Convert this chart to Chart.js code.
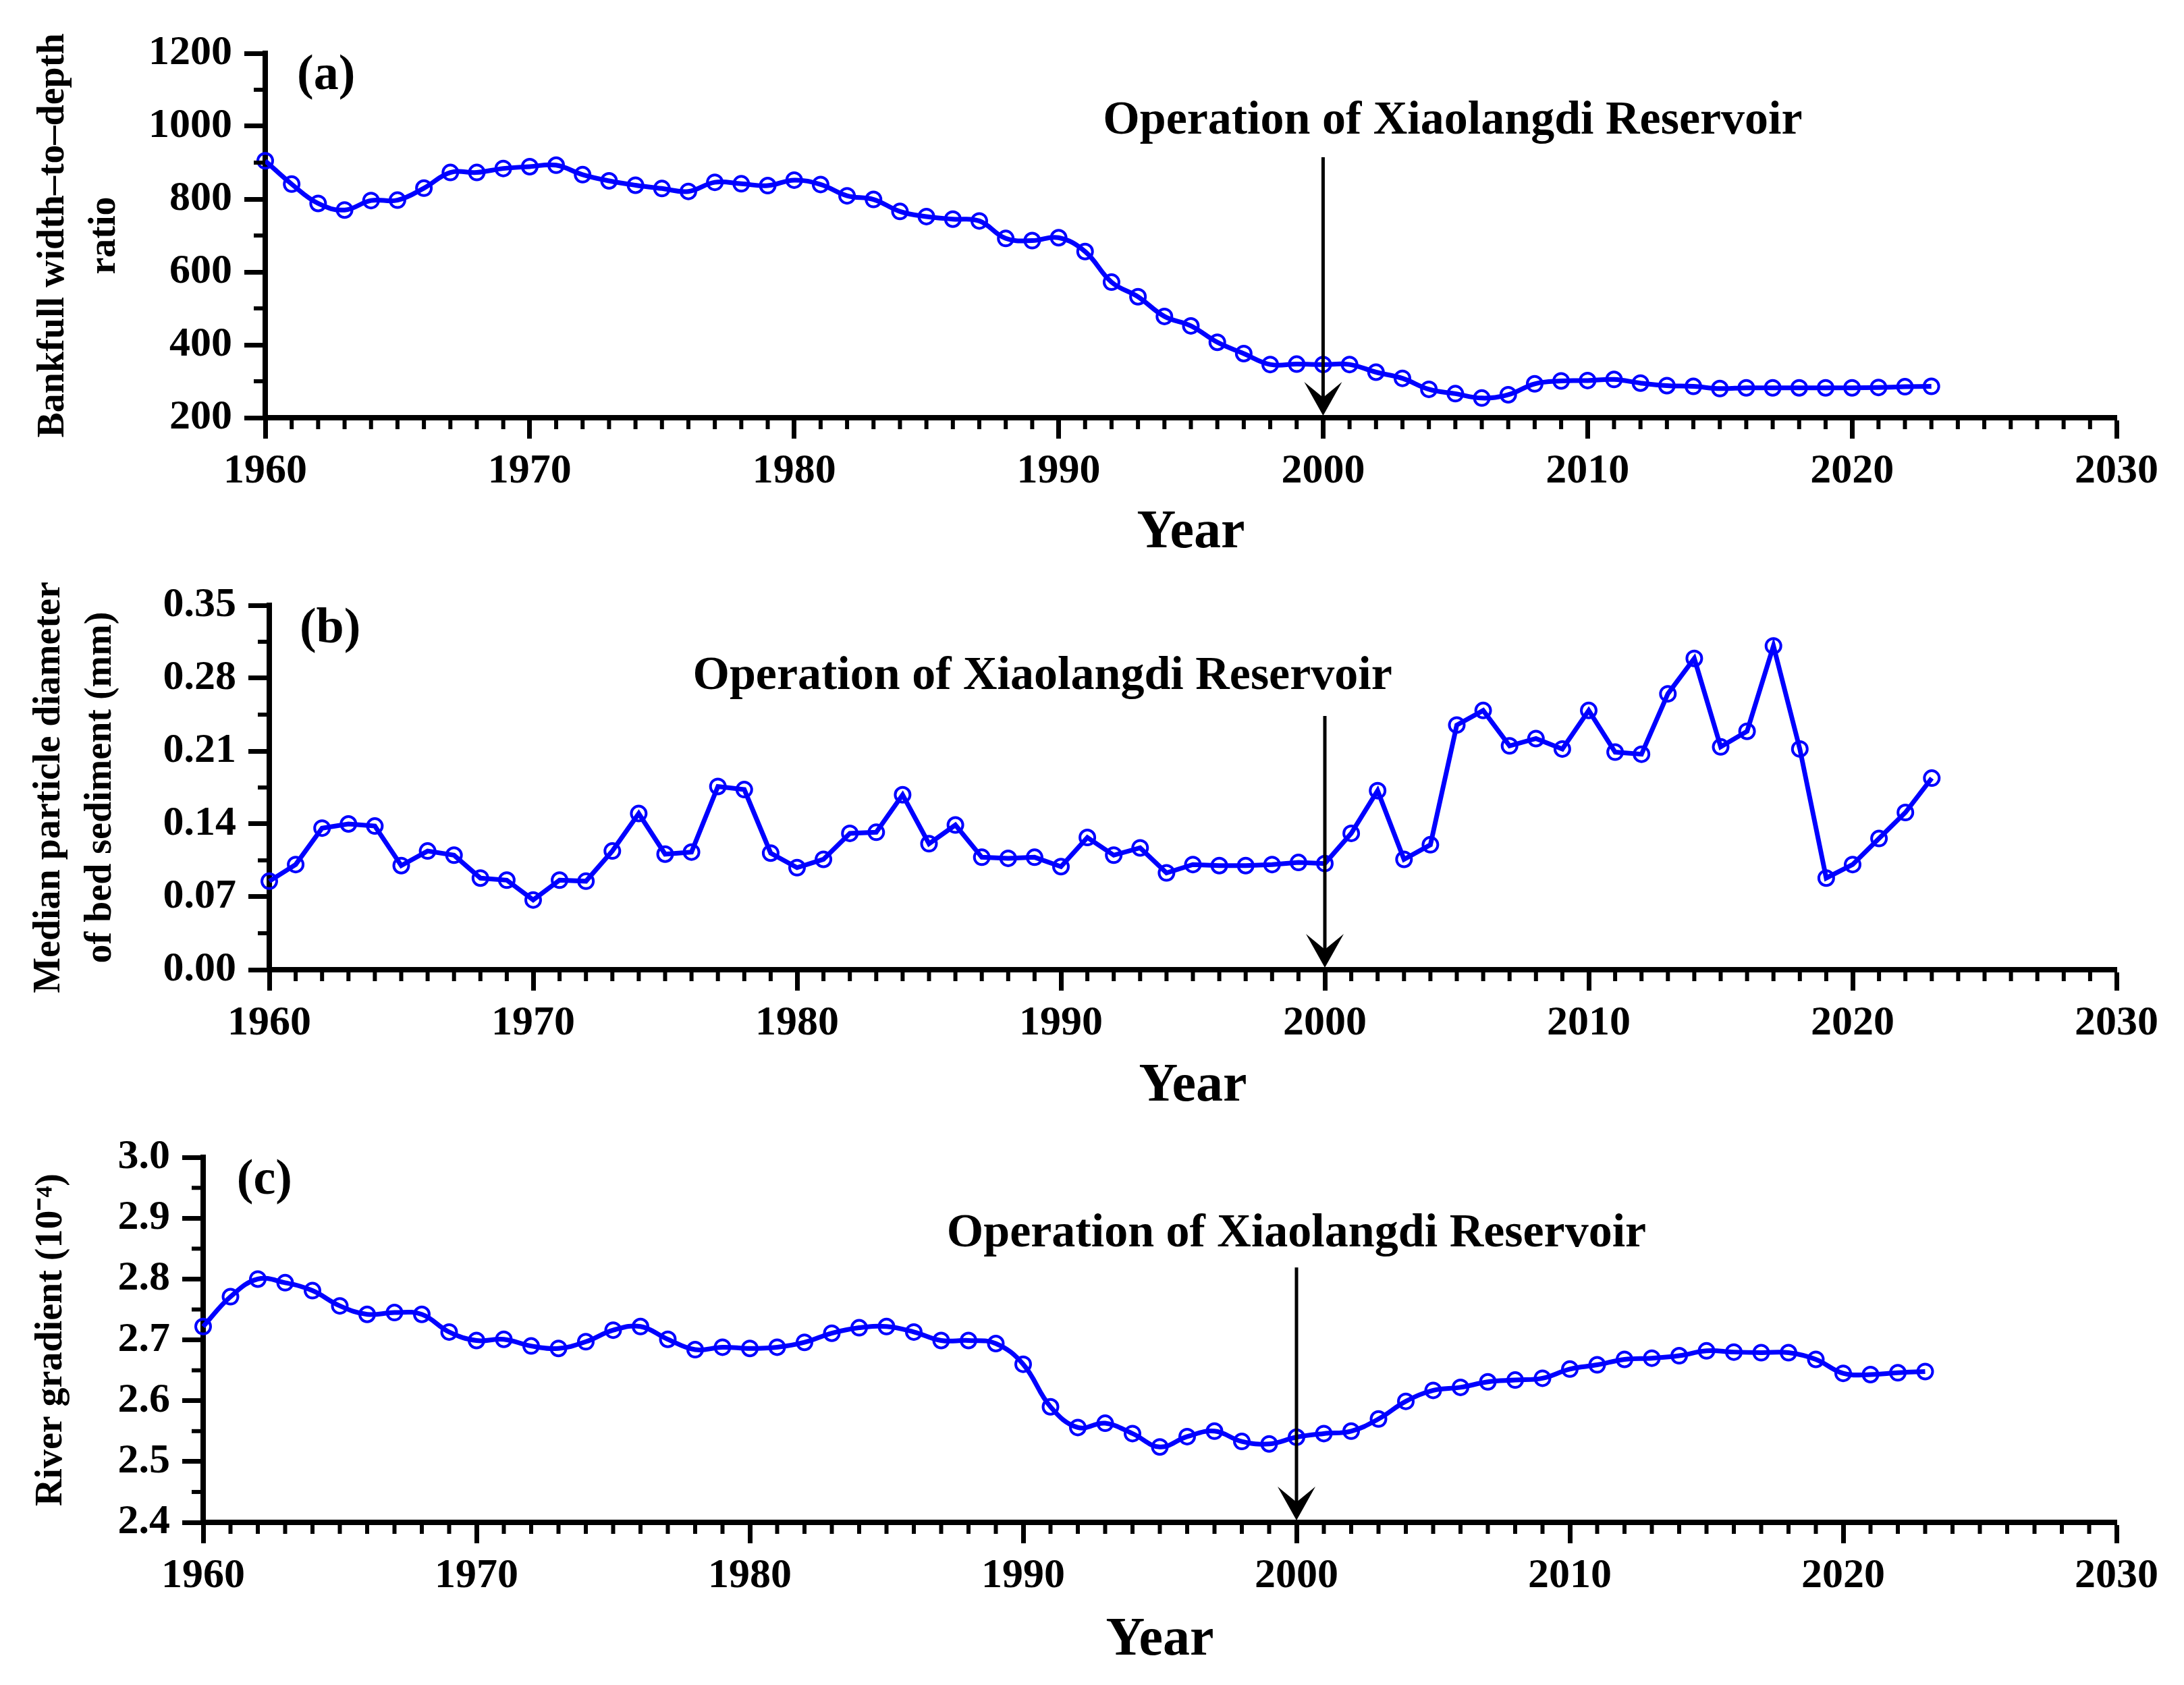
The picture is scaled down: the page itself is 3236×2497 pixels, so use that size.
<!DOCTYPE html>
<html>
<head>
    <title>Xiaolangdi Reservoir channel changes</title>
    <script src="https://cdn.jsdelivr.net/npm/chart.js"></script>
    <style>
        body { margin: 0; background: #fff; width: 3236px; height: 2497px; overflow: hidden; }
        .panel { position: absolute; left: 0; }
    </style>
</head>
<body>
    <canvas class="panel" id="chartA" width="3236" height="840" style="top:0px"></canvas>
    <canvas class="panel" id="chartB" width="3236" height="820" style="top:840px"></canvas>
    <canvas class="panel" id="chartC" width="3236" height="837" style="top:1660px"></canvas>

    <script>
        const years = [1960, 1961, 1962, 1963, 1964, 1965, 1966, 1967, 1968, 1969,
                       1970, 1971, 1972, 1973, 1974, 1975, 1976, 1977, 1978, 1979,
                       1980, 1981, 1982, 1983, 1984, 1985, 1986, 1987, 1988, 1989,
                       1990, 1991, 1992, 1993, 1994, 1995, 1996, 1997, 1998, 1999,
                       2000, 2001, 2002, 2003, 2004, 2005, 2006, 2007, 2008, 2009,
                       2010, 2011, 2012, 2013, 2014, 2015, 2016, 2017, 2018, 2019,
                       2020, 2021, 2022, 2023];

        // (a) bankfull width-to-depth ratio
        const widthDepthRatio = [905, 841, 788, 770, 796, 797, 830, 873, 873, 884,
                                 889, 893, 867, 850, 838, 829, 821, 846, 842, 837,
                                 852, 840, 809, 799, 766, 752, 745, 740, 692, 686,
                                 694, 656, 572, 532, 478, 452, 407, 376, 346, 347,
                                 346, 346, 325, 308, 278, 266, 254, 263, 293, 301,
                                 302, 305, 295, 288, 286, 280, 282, 282, 282, 282,
                                 282, 283, 285, 286];

        // (b) median particle diameter of bed sediment (mm)
        const medianDiameter = [0.085, 0.101, 0.136, 0.140, 0.138, 0.100, 0.114, 0.110, 0.088, 0.086,
                                0.067, 0.086, 0.085, 0.114, 0.150, 0.111, 0.113, 0.176, 0.173, 0.112,
                                0.098, 0.106, 0.131, 0.132, 0.168, 0.121, 0.139, 0.108, 0.107, 0.108,
                                0.099, 0.127, 0.110, 0.117, 0.093, 0.101, 0.100, 0.100, 0.101, 0.103,
                                0.102, 0.131, 0.172, 0.106, 0.120, 0.235, 0.249, 0.215, 0.222, 0.212,
                                0.249, 0.209, 0.207, 0.265, 0.299, 0.214, 0.229, 0.311, 0.212, 0.088,
                                0.101, 0.126, 0.151, 0.184];

        // (c) river gradient (1e-4)
        const riverGradient = [2.722, 2.771, 2.800, 2.794, 2.781, 2.756, 2.742, 2.745, 2.742, 2.713,
                               2.699, 2.701, 2.690, 2.686, 2.697, 2.716, 2.722, 2.701, 2.684, 2.688,
                               2.686, 2.688, 2.696, 2.711, 2.720, 2.722, 2.713, 2.699, 2.699, 2.694,
                               2.660, 2.590, 2.556, 2.563, 2.546, 2.524, 2.541, 2.550, 2.533, 2.529,
                               2.540, 2.546, 2.550, 2.570, 2.599, 2.617, 2.622, 2.631, 2.634, 2.637,
                               2.652, 2.659, 2.668, 2.670, 2.674, 2.682, 2.680, 2.679, 2.679, 2.668,
                               2.645, 2.643, 2.646, 2.648];

        const xTicks = [1960, 1970, 1980, 1990, 2000, 2010, 2020, 2030];
        const xTickLabels = ['1960', '1970', '1980', '1990', '2000', '2010', '2020', '2030'];
        const aTicks = [200, 400, 600, 800, 1000, 1200];
        const aTickLabels = ['200', '400', '600', '800', '1000', '1200'];
        const bTicks = [0, 0.07, 0.14, 0.21, 0.28, 0.35];
        const bTickLabels = ['0.00', '0.07', '0.14', '0.21', '0.28', '0.35'];
        const cTicks = [2.4, 2.5, 2.6, 2.7, 2.8, 2.9, 3.0];
        const cTickLabels = ['2.4', '2.5', '2.6', '2.7', '2.8', '2.9', '3.0'];

        const noteText = 'Operation of Xiaolangdi Reservoir';
        const reservoirYear = 2000;

        const FONT = '"Liberation Serif", "Times New Roman", serif';
        const BLUE = '#0000ff';

        // arrow, note text, panel letter and minor ticks
        const panelDeco = {
            id: 'panelDeco',
            afterDraw(chart, args, o) {
                const ctx = chart.ctx;
                const xs = chart.scales.x, ys = chart.scales.y;
                const area = chart.chartArea;
                ctx.save();
                ctx.strokeStyle = '#000';
                ctx.fillStyle = '#000';

                // minor ticks
                ctx.lineWidth = 6;
                for (let v = xs.min; v <= xs.max; v += 1) {
                    if (v % 10 === 0) continue;
                    const px = xs.getPixelForValue(v);
                    ctx.beginPath();
                    ctx.moveTo(px, area.bottom);
                    ctx.lineTo(px, area.bottom + 17);
                    ctx.stroke();
                }
                const majors = ys.ticks.map(t => t.value);
                for (let i = 0; i < majors.length - 1; i++) {
                    const py = ys.getPixelForValue((majors[i] + majors[i + 1]) / 2);
                    ctx.beginPath();
                    ctx.moveTo(area.left, py);
                    ctx.lineTo(area.left - 17, py);
                    ctx.stroke();
                }

                // arrow marking reservoir operation
                const ax = xs.getPixelForValue(reservoirYear);
                const top = ys.getPixelForValue(o.arrowTop);
                const tip = area.bottom - 3;
                ctx.lineWidth = 5;
                ctx.beginPath();
                ctx.moveTo(ax, top);
                ctx.lineTo(ax, tip - 25);
                ctx.stroke();
                ctx.beginPath();
                ctx.moveTo(ax, tip);
                ctx.lineTo(ax - 28, tip - 50);
                ctx.lineTo(ax, tip - 27);
                ctx.lineTo(ax + 28, tip - 50);
                ctx.closePath();
                ctx.fill();

                // text
                ctx.font = 'bold 70px ' + FONT;
                ctx.textAlign = 'center';
                ctx.textBaseline = 'middle';
                ctx.fillText(noteText, xs.getPixelForValue(o.noteAt[0]), ys.getPixelForValue(o.noteAt[1]));

                ctx.font = 'bold 74px ' + FONT;
                ctx.textAlign = 'left';
                ctx.fillText(o.letter, xs.getPixelForValue(o.letterAt[0]), ys.getPixelForValue(o.letterAt[1]));
                ctx.restore();
            }
        };

        function makePanel(id, values, cfg) {
            new Chart(document.getElementById(id), {
                type: 'line',
                data: {
                    labels: years,
                    datasets: [{
                        data: years.map((yr, i) => ({ x: yr, y: values[i] })),
                        borderColor: BLUE,
                        borderWidth: 7,
                        tension: cfg.tension,
                        pointRadius: 11,
                        pointBorderWidth: 4,
                        pointBorderColor: BLUE,
                        pointBackgroundColor: 'rgba(0,0,0,0)',
                        clip: false
                    }]
                },
                options: {
                    responsive: false,
                    animation: false,
                    devicePixelRatio: 1,
                    layout: { padding: { top: cfg.padTop, right: 100, left: 0, bottom: 0 } },
                    plugins: {
                        legend: { display: false },
                        tooltip: { enabled: false },
                        panelDeco: cfg.deco
                    },
                    scales: {
                        x: {
                            type: 'linear',
                            min: 1960,
                            max: 2030,
                            afterBuildTicks: s => { s.ticks = xTicks.map(v => ({ value: v })); },
                            afterFit: s => { s.height = cfg.xHeight; },
                            ticks: {
                                autoSkip: false,
                                maxRotation: 0,
                                padding: 12,
                                color: '#000',
                                font: { family: FONT, size: 62, weight: 'bold' },
                                callback: (v, i) => xTickLabels[i]
                            },
                            grid: { drawOnChartArea: false, drawTicks: true, tickLength: 31, tickWidth: 7, tickColor: '#000' },
                            border: { display: true, width: 8, color: '#000' },
                            title: {
                                display: true,
                                text: 'Year',
                                color: '#000',
                                font: { family: FONT, size: 80, weight: 'bold', lineHeight: 1.2 },
                                padding: { top: 0, bottom: cfg.yearPad }
                            }
                        },
                        y: {
                            min: cfg.ticks[0],
                            max: cfg.ticks[cfg.ticks.length - 1],
                            afterBuildTicks: s => { s.ticks = cfg.ticks.map(v => ({ value: v })); },
                            afterFit: s => { s.width = cfg.yWidth; },
                            ticks: {
                                padding: 18,
                                color: '#000',
                                font: { family: FONT, size: 62, weight: 'bold' },
                                callback: (v, i) => cfg.tickLabels[i]
                            },
                            grid: { drawOnChartArea: false, drawTicks: true, tickLength: 31, tickWidth: 7, tickColor: '#000' },
                            border: { display: true, width: 8, color: '#000' },
                            title: {
                                display: true,
                                text: cfg.title,
                                color: '#000',
                                font: { family: FONT, size: 56, weight: 'bold', lineHeight: 1.35 },
                                padding: { top: cfg.titlePad, bottom: 0 }
                            }
                        }
                    }
                },
                plugins: [panelDeco]
            });
        }

        makePanel('chartA', widthDepthRatio, {
            tension: 0.4, padTop: 79, xHeight: 221, yWidth: 393, yearPad: 2, titlePad: 42,
            ticks: aTicks, tickLabels: aTickLabels,
            title: ['Bankfull width\u2013to\u2013depth', 'ratio'],
            deco: { letter: '(a)', letterAt: [1961.2, 1137], noteAt: [2004.9, 1013], arrowTop: 915 }
        });

        makePanel('chartB', medianDiameter, {
            tension: 0, padTop: 57, xHeight: 223, yWidth: 399, yearPad: 2, titlePad: 36,
            ticks: bTicks, tickLabels: bTickLabels,
            title: ['Median particle diameter', 'of bed sediment (mm)'],
            deco: { letter: '(b)', letterAt: [1961.15, 0.3267], noteAt: [1989.3, 0.2813], arrowTop: 0.2437 }
        });

        makePanel('chartC', riverGradient, {
            tension: 0.4, padTop: 55, xHeight: 241, yWidth: 301, yearPad: 18, titlePad: 39,
            ticks: cTicks, tickLabels: cTickLabels,
            title: 'River gradient (10\u207B\u2074)',
            deco: { letter: '(c)', letterAt: [1961.23, 2.961], noteAt: [2000, 2.874], arrowTop: 2.819 }
        });
    </script>
</body>
</html>
